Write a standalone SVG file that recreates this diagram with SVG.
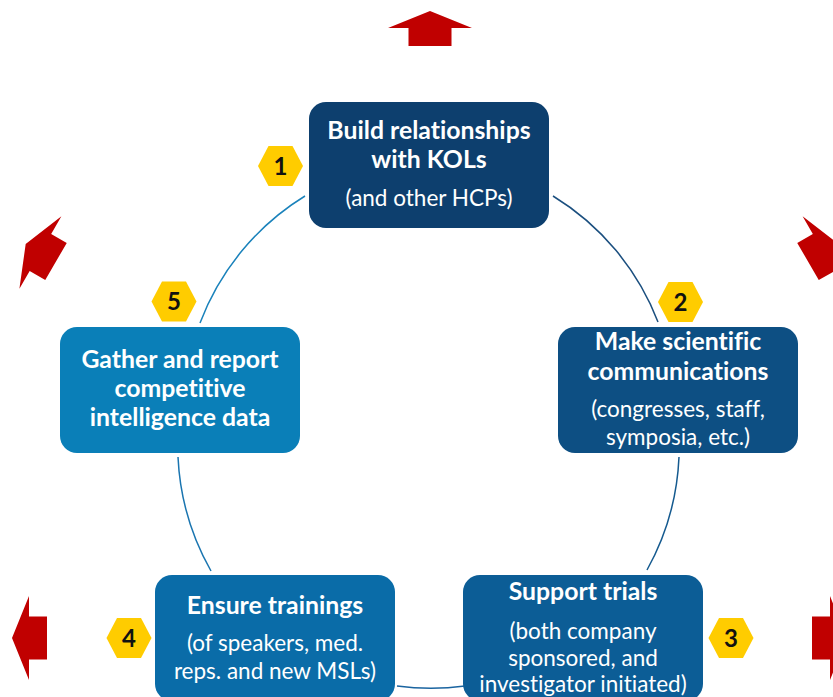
<svg xmlns="http://www.w3.org/2000/svg" xmlns:xlink="http://www.w3.org/1999/xlink" width="833" height="697" viewBox="0 0 833 697">
<style>
.box{stroke:none}
.t{font-family:Lato,"Open Sans","Liberation Sans",sans-serif;font-weight:bold;font-size:24.8px;fill:#ffffff;text-anchor:middle;font-variant-ligatures:none}
.s{font-family:Lato,"Open Sans","Liberation Sans",sans-serif;font-size:22.5px;fill:#ffffff;text-anchor:middle;font-variant-ligatures:none}
.n{font-family:Lato,"Open Sans","Liberation Sans",sans-serif;font-weight:bold;font-size:24px;fill:#111111;text-anchor:middle}
.arc{fill:none;stroke-width:1.5}
.hex{fill:#ffcc00}
.arrow{fill:#c00000}
</style>
<defs>
<polygon id="hexshape" class="hex" points="-22.5,0 -12,-20 12,-20 22.5,0 12,20 -12,20"/>
<polygon id="arrowshape" class="arrow" points="0,-35 42,-18 21.5,-18 21.5,0 -21.5,0 -21.5,-18 -42,-18"/>
</defs>
<rect width="833" height="697" fill="#ffffff"/>
<g id="arrows">
<use xlink:href="#arrowshape" transform="translate(430,46)"/>
<use xlink:href="#arrowshape" transform="translate(56,261.5) rotate(-60)"/>
<use xlink:href="#arrowshape" transform="translate(808,261.5) rotate(60)"/>
<use xlink:href="#arrowshape" transform="translate(47,638) rotate(-90)"/>
<use xlink:href="#arrowshape" transform="translate(812,638) rotate(90)"/>
</g>
<g id="connectors">
<path class="arc" stroke="#1b4f7f" d="M553,196 A255,255 0 0 1 658,322"/>
<path class="arc" stroke="#155a8f" d="M679,457 A255,255 0 0 1 647,570"/>
<path class="arc" stroke="#1a64a0" d="M465,686 A255,255 0 0 1 397,686"/>
<path class="arc" stroke="#1a75b0" d="M211,571 A255,255 0 0 1 178,457"/>
<path class="arc" stroke="#1a82bb" d="M200,323 A255,255 0 0 1 305,196"/>
</g>
<g id="node-1">
<rect class="box" x="309" y="102" width="240" height="126" rx="17" fill="#0d3f6e"/>
<text class="t" x="429" y="139">Build relationships</text>
<text class="t" x="429" y="168">with KOLs</text>
<text class="s" x="429" y="206">(and other HCPs)</text>
</g>
<g id="node-2">
<rect class="box" x="558" y="327" width="240" height="126" rx="17" fill="#0d4f83"/>
<text class="t" x="678" y="350">Make scientific</text>
<text class="t" x="678" y="380">communications</text>
<text class="s" x="678" y="417">(congresses, staff,</text>
<text class="s" x="678" y="445">symposia, etc.)</text>
</g>
<g id="node-3">
<rect class="box" x="463" y="575" width="240" height="126" rx="17" fill="#0c5d96"/>
<text class="t" x="583" y="600">Support trials</text>
<text class="s" x="583" y="639">(both company</text>
<text class="s" x="583" y="666">sponsored, and</text>
<text class="s" x="583" y="692">investigator initiated)</text>
</g>
<g id="node-4">
<rect class="box" x="155" y="575" width="240" height="126" rx="17" fill="#0a6ca8"/>
<text class="t" x="275" y="614">Ensure trainings</text>
<text class="s" x="275" y="651">(of speakers, med.</text>
<text class="s" x="275" y="679">reps. and new MSLs)</text>
</g>
<g id="node-5">
<rect class="box" x="60" y="327" width="240" height="126" rx="17" fill="#0a7fb8"/>
<text class="t" x="180" y="368">Gather and report</text>
<text class="t" x="180" y="397">competitive</text>
<text class="t" x="180" y="426">intelligence data</text>
</g>
<g id="badge-1"><use xlink:href="#hexshape" x="280.5" y="166"/><text class="n" x="280.5" y="174.5">1</text></g>
<g id="badge-2"><use xlink:href="#hexshape" x="680.5" y="302"/><text class="n" x="680.5" y="310.5">2</text></g>
<g id="badge-3"><use xlink:href="#hexshape" x="731" y="638"/><text class="n" x="731" y="646.5">3</text></g>
<g id="badge-4"><use xlink:href="#hexshape" x="129" y="638"/><text class="n" x="129" y="646.5">4</text></g>
<g id="badge-5"><use xlink:href="#hexshape" x="174" y="301.5"/><text class="n" x="174" y="310">5</text></g>
</svg>
